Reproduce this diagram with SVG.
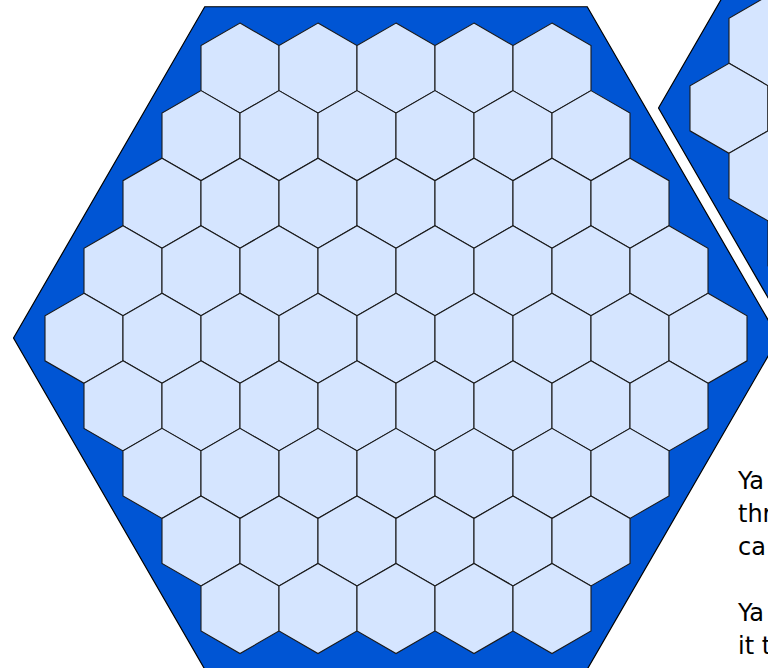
<svg xmlns="http://www.w3.org/2000/svg" xmlns:xlink="http://www.w3.org/1999/xlink" width="768" height="668" viewBox="0 0 768 668">
  <style>
    .frame { fill: #0055d4; stroke: #000; stroke-width: 1.2; stroke-linejoin: miter; }
    .cell { fill: #d5e5ff; stroke: #1a1a1a; stroke-width: 1.1; stroke-linejoin: miter; }
    .txt { font-family: "DejaVu Sans", "Liberation Sans", sans-serif; font-size: 24px; fill: #000; }
  </style>
  <defs>
    <polygon id="h" class="cell" points="0,-45.03 39,-22.51 39,22.51 0,45.03 -39,22.51 -39,-22.51"/>
    <g id="board">
      <polygon class="frame" points="13.5,338 204.75,6.75 587.25,6.75 778.5,338 587.25,669.25 204.75,669.25"/>
      <g transform="translate(0,68.1)">
        <use xlink:href="#h" x="240"/><use xlink:href="#h" x="318"/><use xlink:href="#h" x="396"/><use xlink:href="#h" x="474"/><use xlink:href="#h" x="552"/>
      </g>
      <g transform="translate(0,135.65)">
        <use xlink:href="#h" x="201"/><use xlink:href="#h" x="279"/><use xlink:href="#h" x="357"/><use xlink:href="#h" x="435"/><use xlink:href="#h" x="513"/><use xlink:href="#h" x="591"/>
      </g>
      <g transform="translate(0,203.2)">
        <use xlink:href="#h" x="162"/><use xlink:href="#h" x="240"/><use xlink:href="#h" x="318"/><use xlink:href="#h" x="396"/><use xlink:href="#h" x="474"/><use xlink:href="#h" x="552"/><use xlink:href="#h" x="630"/>
      </g>
      <g transform="translate(0,270.75)">
        <use xlink:href="#h" x="123"/><use xlink:href="#h" x="201"/><use xlink:href="#h" x="279"/><use xlink:href="#h" x="357"/><use xlink:href="#h" x="435"/><use xlink:href="#h" x="513"/><use xlink:href="#h" x="591"/><use xlink:href="#h" x="669"/>
      </g>
      <g transform="translate(0,338.3)">
        <use xlink:href="#h" x="84"/><use xlink:href="#h" x="162"/><use xlink:href="#h" x="240"/><use xlink:href="#h" x="318"/><use xlink:href="#h" x="396"/><use xlink:href="#h" x="474"/><use xlink:href="#h" x="552"/><use xlink:href="#h" x="630"/><use xlink:href="#h" x="708"/>
      </g>
      <g transform="translate(0,405.85)">
        <use xlink:href="#h" x="123"/><use xlink:href="#h" x="201"/><use xlink:href="#h" x="279"/><use xlink:href="#h" x="357"/><use xlink:href="#h" x="435"/><use xlink:href="#h" x="513"/><use xlink:href="#h" x="591"/><use xlink:href="#h" x="669"/>
      </g>
      <g transform="translate(0,473.4)">
        <use xlink:href="#h" x="162"/><use xlink:href="#h" x="240"/><use xlink:href="#h" x="318"/><use xlink:href="#h" x="396"/><use xlink:href="#h" x="474"/><use xlink:href="#h" x="552"/><use xlink:href="#h" x="630"/>
      </g>
      <g transform="translate(0,540.95)">
        <use xlink:href="#h" x="201"/><use xlink:href="#h" x="279"/><use xlink:href="#h" x="357"/><use xlink:href="#h" x="435"/><use xlink:href="#h" x="513"/><use xlink:href="#h" x="591"/>
      </g>
      <g transform="translate(0,608.5)">
        <use xlink:href="#h" x="240"/><use xlink:href="#h" x="318"/><use xlink:href="#h" x="396"/><use xlink:href="#h" x="474"/><use xlink:href="#h" x="552"/>
      </g>
    </g>
  </defs>
  <rect width="768" height="668" fill="#fff"/>
  <g id="board-main">
    <use xlink:href="#board"/>
  </g>
  <g id="board-second">
    <use xlink:href="#board" transform="translate(645,-230)"/>
  </g>
  <g id="caption" class="txt">
    <text x="738" y="489">Ya</text>
    <text x="738" y="522">thr</text>
    <text x="738" y="555">ca</text>
    <text x="738" y="621">Ya</text>
    <text x="738" y="654">it t</text>
  </g>
</svg>
